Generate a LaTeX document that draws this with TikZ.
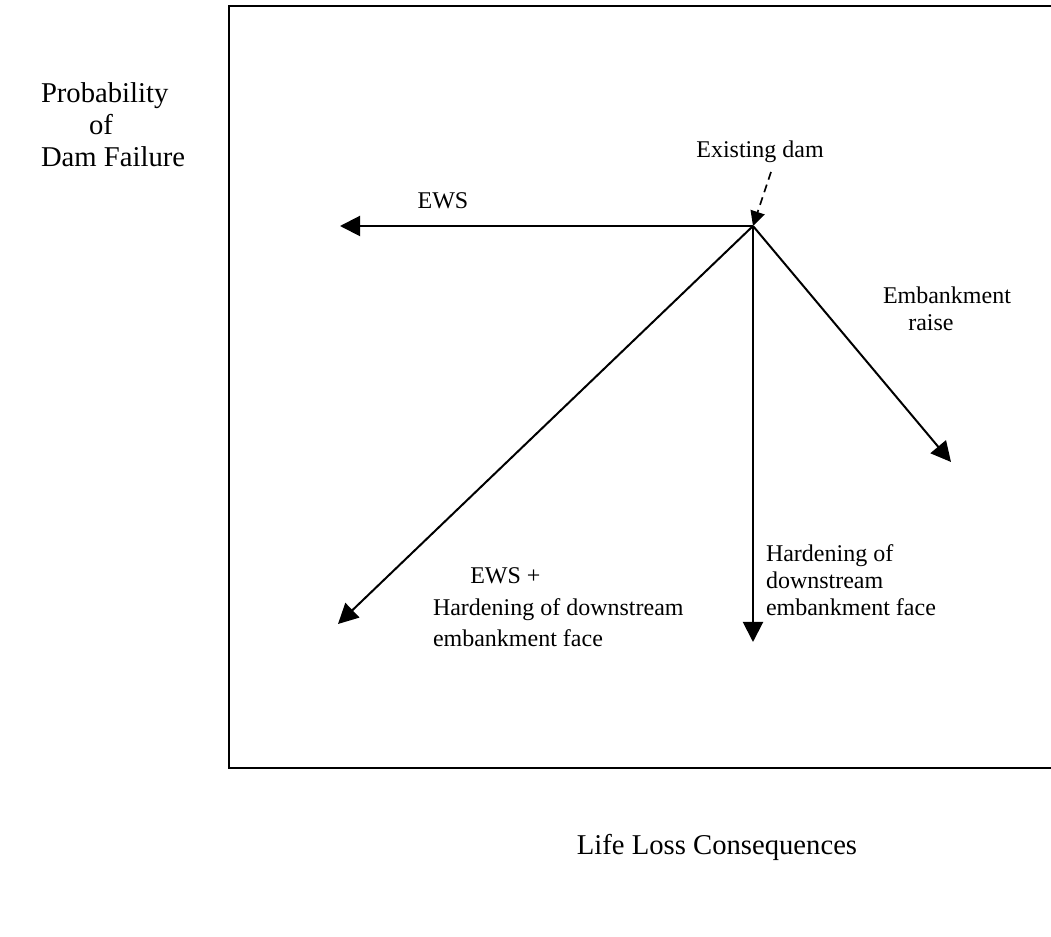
\documentclass[tikz,border=0pt]{standalone}
\usepackage{fontspec}
\setmainfont{Liberation Serif}
\usetikzlibrary{arrows.meta}

\begin{document}
\begin{tikzpicture}[x=0.75pt, y=-0.75pt,
    line width=1.5pt,
    option/.style={-{Triangle[length=15pt, width=15pt]}},
    pointer/.style={dash pattern=on 6pt off 4pt, line width=1.2pt, -{Triangle[length=11pt, width=11pt]}},
    lbl/.style={font=\fontsize{18}{20}\selectfont, align=left, inner sep=0pt},
    axis/.style={font=\fontsize{21.5}{24}\selectfont, align=left, inner sep=0pt}]
    \useasboundingbox (0,0) rectangle (1051,937);
    % frame of the plot
    \draw (1053,6) -- (229,6) -- (229,768) -- (1053,768);
    % axes
    \node[axis, anchor=north west] (yaxis) at (40,82)
        {Probability\\\hspace{36pt}of\\Dam Failure};
    \node[axis] (xaxis) at (717,847) {Life Loss Consequences};
    % existing dam and the options
    \coordinate (dam) at (753,226);
    \coordinate (ews) at (340,226);
    \coordinate (raise) at (951,462);
    \coordinate (hard) at (753,642);
    \coordinate (both) at (338,624);
    \node[lbl] (existing) at (760,152) {Existing dam};
    \draw[pointer] (771,172) -- (dam);
    \draw[option] (dam) -- (ews);
    \draw[option] (dam) -- (raise);
    \draw[option] (dam) -- (hard);
    \draw[option] (dam) -- (both);
    \node[lbl] (ewslbl) at (443,201) {EWS};
    \node[lbl, anchor=north west] (raiselbl) at (882,286)
        {Embankment\\\hspace{19pt}raise};
    \node[lbl, anchor=north west] (hardlbl) at (765,544)
        {Hardening of\\downstream\\embankment face};
    \node[lbl, anchor=north west, font=\fontsize{18}{23.5}\selectfont] (bothlbl) at (432,567)
        {\hspace{28pt}EWS +\\Hardening of downstream\\embankment face};
\end{tikzpicture}
\end{document}
